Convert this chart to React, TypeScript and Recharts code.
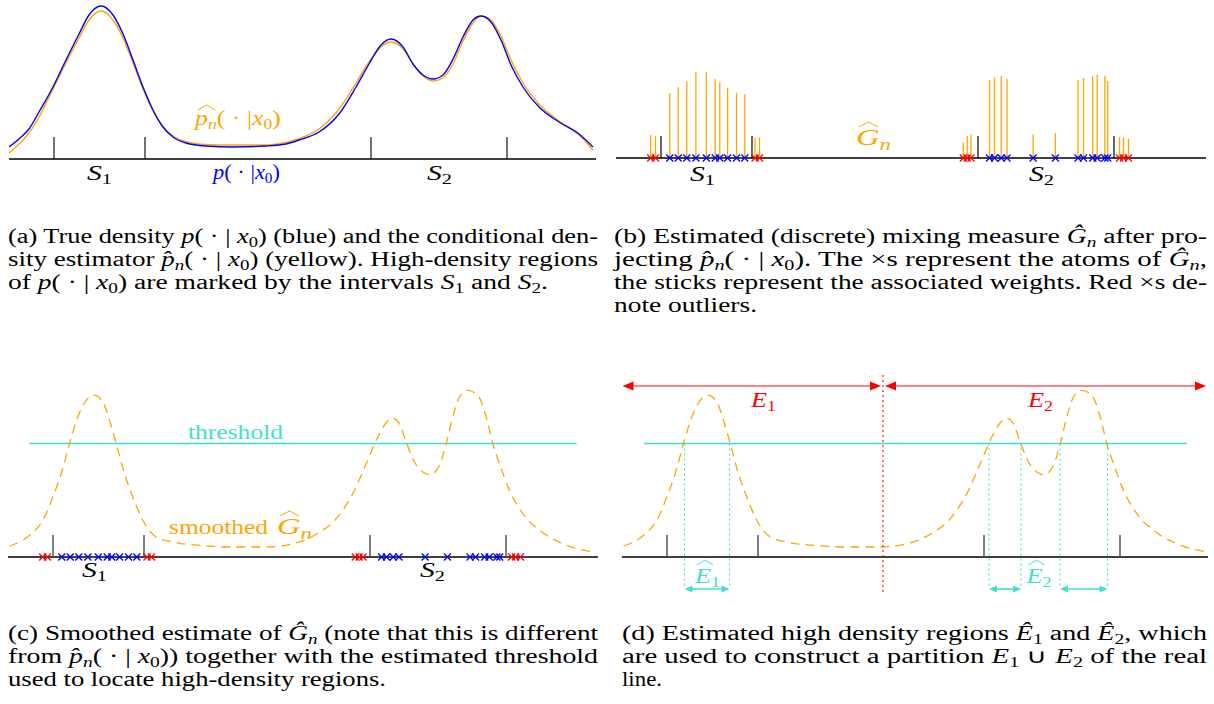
import React from "react";
import {
  ComposedChart,
  Line,
  Scatter,
  XAxis,
  YAxis,
  ReferenceLine,
  ReferenceDot,
} from "recharts";

const C_BLUE = "#0000ff";
const C_ORANGE = "#ffa500";
const C_RED = "#ff0000";
const C_RED_SOFT = "#ff5a5a";
const C_TURQ = "#40e0d0";
const C_TICK = "#555555";
const SERIF = "Liberation Serif";

// x positions are on a shared 0..590 scale for all four panels
const densityGrid = [
  0, 10, 20, 30, 44, 57, 70, 80, 92, 104, 114, 124, 134, 144, 154, 164, 177,
  197, 224, 257, 277, 290, 310, 330, 347, 360, 372, 382, 394, 404, 414, 424,
  434, 444, 454, 464, 472, 482, 492, 502, 514, 530, 550, 570, 584,
];
const trueDensity = [
  12, 20, 30, 47, 72, 99, 125, 144, 153, 144, 125, 99, 72, 49, 32, 22, 16, 13,
  12, 13, 15, 19, 27, 45, 72, 95, 114, 120, 112, 95, 84, 80, 84, 100, 122, 139,
  143, 137, 119, 94, 72, 52, 37, 25, 12,
];
const estDensity = [
  6, 15, 26, 42, 70, 96, 121, 139, 148, 139, 121, 96, 70, 48, 32, 23, 17.5,
  14.5, 14, 14, 16.5, 20.5, 30, 50, 76, 97, 112, 117, 110, 95, 83, 78, 81, 95,
  118, 136, 143, 139, 123, 99, 76, 55, 38, 24, 9,
];

const smoothGrid = [
  1.5, 21.5, 34.8, 44.8, 53.2, 61.5, 69.8, 78.2, 86.5, 94.8, 101.5, 108.2,
  116.5, 124.8, 134.8, 148.2, 164.8, 191.5, 224.8, 258.2, 284.8, 308.2, 328.2,
  344.8, 358.2, 369.8, 376.5, 384.8, 391.5, 398.2, 406.5, 416.5, 422.2, 431.5,
  438.2, 444.8, 451.5, 459.8, 469.8, 478.2, 484.8, 491.5, 501.5, 514.8, 531.5,
  554.8, 584.8,
];
const smoothDensity = [
  11, 21.7, 36.7, 60, 83.3, 113.3, 140, 156.7, 161.7, 155, 136.7, 113.3, 83.3,
  60, 36.7, 20, 15, 11.7, 10, 10, 13.3, 22.7, 38.3, 63.3, 93.3, 120, 132,
  138.7, 133, 115, 95, 84, 82.3, 91.7, 113.3, 140, 160, 166.7, 161.7, 140,
  113.3, 93.3, 66.7, 43.3, 26.7, 13.3, 5,
];

const intervalEnds = [45, 136, 362, 498];

const inlierAtoms = [
  53.8, 62.2, 70.8, 79.9, 90.3, 99.2, 103.8, 111.6, 120.5, 128.8, 373.5,
  378.5, 385.2, 391, 417.1, 439.4, 462, 467.5, 476.7, 481.2, 488.9, 491.7,
];
const inlierWeights = [
  65, 71, 76.7, 86.3, 86.3, 79, 75.7, 70.3, 65.3, 63.7, 78, 80.7, 82.3, 79,
  23.5, 24.8, 78.3, 80, 81.7, 83, 82.3, 77,
];
const outlierAtoms = [
  34.7, 39.5, 139, 143.5, 347.3, 351.2, 355, 503.5, 507.5, 512.5,
];
const outlierWeights = [23, 21.7, 20.3, 20.7, 15.5, 22.2, 23.5, 21, 20.2, 19.2];

const thresholdLevel = 113.5;
const thresholdCrossings = [62.5, 107.5, 367, 399, 438, 485.5];
const partitionCut = 261;

const toPoints = (xs: number[], ys: number[]) =>
  xs.map((x, i) => ({ x, y: ys[i] }));
const onAxis = (xs: number[]) => xs.map((x) => ({ x, y: 0 }));

const crossShape = (color: string) => (p: any) => {
  const s = 3.5;
  return (
    <g stroke={color} strokeWidth={1.3}>
      <line x1={p.cx - s} y1={p.cy - s} x2={p.cx + s} y2={p.cy + s} />
      <line x1={p.cx - s} y1={p.cy + s} x2={p.cx + s} y2={p.cy - s} />
    </g>
  );
};

const arrowHead =
  (dir: 1 | -1, color: string, len: number, hw: number) => (p: any) =>
    (
      <path
        d={`M${p.cx},${p.cy} L${p.cx - dir * len},${p.cy - hw} L${
          p.cx - dir * len
        },${p.cy + hw} Z`}
        fill={color}
      />
    );

const hat = (x: number, y: number, w: number, color: string) => (
  <path
    d={`M${x},${y + 5} L${x + w / 2},${y} L${x + w},${y + 5}`}
    fill="none"
    stroke={color}
    strokeWidth={1}
  />
);

// svg text helpers
const I = (t: string) => <tspan fontStyle="italic">{t}</tspan>;
const sb = (t: string, after: string, italic = false, fs = 14) => (
  <>
    <tspan fontSize={fs} dy={4} fontStyle={italic ? "italic" : "normal"}>
      {t}
    </tspan>
    <tspan dy={-4}>{after}</tspan>
  </>
);

const subLabel =
  (base: string, sub: string, color: string, withHat = false) =>
  (p: any) =>
    (
      <g>
        <text
          x={p.cx - 12}
          y={p.cy}
          fontFamily={SERIF}
          fontSize={22}
          fill={color}
          textLength={25}
          lengthAdjust="spacingAndGlyphs"
        >
          <tspan fontStyle="italic">{base}</tspan>
          <tspan fontSize={15} dy={4}>
            {sub}
          </tspan>
        </text>
        {withHat && hat(p.cx - 10, p.cy - 23, 16, color)}
      </g>
    );

const wordLabel = (word: string, color: string, width: number) => (p: any) =>
  (
    <text
      x={p.cx}
      y={p.cy}
      fontFamily={SERIF}
      fontSize={21}
      fill={color}
      textLength={width}
      lengthAdjust="spacingAndGlyphs"
    >
      {word}
    </text>
  );

const condLabel =
  (color: string, withHat: boolean, width: number) => (p: any) =>
    (
      <g>
        <text
          x={p.cx}
          y={p.cy}
          fontFamily={SERIF}
          fontSize={22}
          fill={color}
          textLength={width}
          lengthAdjust="spacingAndGlyphs"
        >
          <tspan fontStyle="italic">p</tspan>
          {withHat && (
            <tspan fontSize={15} fontStyle="italic" dy={4}>
              n
            </tspan>
          )}
          <tspan dy={withHat ? -4 : 0}>( · |</tspan>
          <tspan fontStyle="italic">x</tspan>
          <tspan fontSize={15} dy={4}>
            0
          </tspan>
          <tspan dy={-4}>)</tspan>
        </text>
        {withHat && hat(p.cx + 3, p.cy - 20, 17, color)}
      </g>
    );

const gLabel = (color: string) => (p: any) =>
  (
    <g>
      <text
        x={p.cx}
        y={p.cy}
        fontFamily={SERIF}
        fontSize={23}
        fill={color}
        textLength={35}
        lengthAdjust="spacingAndGlyphs"
      >
        <tspan fontStyle="italic">G</tspan>
        <tspan fontSize={16} fontStyle="italic" dy={5}>
          n
        </tspan>
      </text>
      {hat(p.cx + 3, p.cy - 23, 19, color)}
    </g>
  );

function Panel({
  left,
  top,
  plotH,
  bottom,
  children,
}: {
  left: number;
  top: number;
  plotH: number;
  bottom: number;
  children: React.ReactNode;
}) {
  // y domain extends below zero so markers and labels under the axis stay in the plot area
  return (
    <div style={{ position: "absolute", left, top }}>
      <ComposedChart
        width={590}
        height={plotH + bottom}
        margin={{ top: 0, right: 0, bottom: 0, left: 0 }}
      >
        <XAxis
          type="number"
          dataKey="x"
          domain={[0, 590]}
          hide
          allowDataOverflow
        />
        <YAxis
          type="number"
          dataKey="y"
          domain={[-bottom, plotH]}
          hide
          allowDataOverflow
        />
        {children}
      </ComposedChart>
    </div>
  );
}

function AxisWithTicks({ end, color, width }: any) {
  return (
    <>
      <ReferenceLine
        segment={[
          { x: 0, y: 0 },
          { x: end, y: 0 },
        ]}
        stroke="#000"
        strokeWidth={1.3}
      />
      {intervalEnds.map((e) => (
        <ReferenceLine
          key={e}
          segment={[
            { x: e, y: 0 },
            { x: e, y: 22 },
          ]}
          stroke={color}
          strokeWidth={width}
        />
      ))}
    </>
  );
}

function Atoms() {
  return (
    <>
      <Scatter
        data={onAxis(inlierAtoms)}
        shape={crossShape(C_BLUE)}
        isAnimationActive={false}
      />
      <Scatter
        data={onAxis(outlierAtoms)}
        shape={crossShape(C_RED)}
        isAnimationActive={false}
      />
    </>
  );
}

function CaptionLine({
  x,
  y,
  width,
  children,
}: {
  x: number;
  y: number;
  width: number;
  children: React.ReactNode;
}) {
  return (
    <text
      x={x}
      y={y}
      fontFamily={SERIF}
      fontSize={20}
      fill="#000"
      textLength={width}
      lengthAdjust="spacingAndGlyphs"
    >
      {children}
    </text>
  );
}

export default function App() {
  const smooth = toPoints(smoothGrid, smoothDensity);
  return (
    <div
      style={{
        position: "absolute",
        left: 0,
        top: 0,
        width: 1214,
        height: 704,
        background: "#fff",
        overflow: "hidden",
      }}
    >
      {/* (a) */}
      <Panel left={9} top={0} plotH={159} bottom={45}>
        <AxisWithTicks end={587} color="#000" width={1.1} />
        <Line
          data={toPoints(densityGrid, estDensity)}
          dataKey="y"
          type="monotone"
          stroke={C_ORANGE}
          strokeWidth={1.4}
          dot={false}
          isAnimationActive={false}
        />
        <Line
          data={toPoints(densityGrid, trueDensity)}
          dataKey="y"
          type="monotone"
          stroke={C_BLUE}
          strokeWidth={1.4}
          dot={false}
          isAnimationActive={false}
        />
        <ReferenceDot x={186} y={34} r={0} shape={condLabel(C_ORANGE, true, 86)} />
        <ReferenceDot x={204} y={-20} r={0} shape={condLabel(C_BLUE, false, 67)} />
        <ReferenceDot x={90} y={-21} r={0} shape={subLabel("S", "1", "#000")} />
        <ReferenceDot x={430} y={-21} r={0} shape={subLabel("S", "2", "#000")} />
      </Panel>

      {/* (b) */}
      <Panel left={616} top={58} plotH={100} bottom={45}>
        <AxisWithTicks end={590} color="#000" width={1.2} />
        {inlierAtoms.map((a, i) => (
          <ReferenceLine
            key={"i" + i}
            segment={[
              { x: a, y: 0 },
              { x: a, y: inlierWeights[i] },
            ]}
            stroke={C_ORANGE}
            strokeWidth={1.3}
          />
        ))}
        {outlierAtoms.map((a, i) => (
          <ReferenceLine
            key={"o" + i}
            segment={[
              { x: a, y: 0 },
              { x: a, y: outlierWeights[i] },
            ]}
            stroke={C_ORANGE}
            strokeWidth={1.3}
          />
        ))}
        <Atoms />
        <ReferenceDot x={240} y={13} r={0} shape={gLabel(C_ORANGE)} />
        <ReferenceDot x={86} y={-23} r={0} shape={subLabel("S", "1", "#000")} />
        <ReferenceDot x={425} y={-23} r={0} shape={subLabel("S", "2", "#000")} />
      </Panel>

      {/* (c) */}
      <Panel left={8} top={370} plotH={187} bottom={40}>
        <AxisWithTicks end={590} color={C_TICK} width={1.5} />
        <ReferenceLine
          segment={[
            { x: 21.5, y: thresholdLevel },
            { x: 568.5, y: thresholdLevel },
          ]}
          stroke={C_TURQ}
          strokeWidth={1.5}
        />
        <Line
          data={smooth}
          dataKey="y"
          type="monotone"
          stroke={C_ORANGE}
          strokeWidth={1.3}
          strokeDasharray="9 6"
          dot={false}
          isAnimationActive={false}
        />
        <Atoms />
        <ReferenceDot x={180} y={117.7} r={0} shape={wordLabel("threshold", C_TURQ, 95)} />
        <ReferenceDot x={161} y={23} r={0} shape={wordLabel("smoothed", C_ORANGE, 99)} />
        <ReferenceDot x={269} y={23} r={0} shape={gLabel(C_ORANGE)} />
        <ReferenceDot x={86} y={-20} r={0} shape={subLabel("S", "1", "#000")} />
        <ReferenceDot x={424} y={-20} r={0} shape={subLabel("S", "2", "#000")} />
      </Panel>

      {/* (d) */}
      <Panel left={622} top={370} plotH={187} bottom={45}>
        <AxisWithTicks end={586} color={C_TICK} width={1.5} />
        <ReferenceLine
          segment={[
            { x: 22, y: thresholdLevel },
            { x: 565, y: thresholdLevel },
          ]}
          stroke={C_TURQ}
          strokeWidth={1.5}
        />
        <Line
          data={smooth}
          dataKey="y"
          type="monotone"
          stroke={C_ORANGE}
          strokeWidth={1.3}
          strokeDasharray="9 6"
          dot={false}
          isAnimationActive={false}
        />
        {thresholdCrossings.map((c) => (
          <ReferenceLine
            key={c}
            segment={[
              { x: c, y: thresholdLevel },
              { x: c, y: -30 },
            ]}
            stroke={C_TURQ}
            strokeWidth={1.1}
            strokeDasharray="2 3"
          />
        ))}
        <ReferenceLine
          segment={[
            { x: partitionCut, y: 182 },
            { x: partitionCut, y: -38 },
          ]}
          stroke={C_RED}
          strokeWidth={1.1}
          strokeDasharray="2 3"
        />
        {/* partition arrows */}
        <ReferenceLine
          segment={[
            { x: 4, y: 171 },
            { x: partitionCut - 6, y: 171 },
          ]}
          stroke={C_RED_SOFT}
          strokeWidth={1.6}
        />
        <ReferenceLine
          segment={[
            { x: partitionCut + 6, y: 171 },
            { x: 580, y: 171 },
          ]}
          stroke={C_RED_SOFT}
          strokeWidth={1.6}
        />
        <ReferenceDot x={0.5} y={171} r={0} shape={arrowHead(-1, C_RED, 11, 4.5)} />
        <ReferenceDot x={partitionCut - 2} y={171} r={0} shape={arrowHead(1, C_RED, 11, 4.5)} />
        <ReferenceDot x={partitionCut + 2} y={171} r={0} shape={arrowHead(-1, C_RED, 11, 4.5)} />
        <ReferenceDot x={584} y={171} r={0} shape={arrowHead(1, C_RED, 11, 4.5)} />
        {[0, 2, 4].map((k) => (
          <React.Fragment key={k}>
            <ReferenceLine
              segment={[
                { x: thresholdCrossings[k] + 3, y: -32 },
                { x: thresholdCrossings[k + 1] - 3, y: -32 },
              ]}
              stroke={C_TURQ}
              strokeWidth={1.6}
            />
            <ReferenceDot x={thresholdCrossings[k]} y={-32} r={0} shape={arrowHead(-1, C_TURQ, 8, 3.5)} />
            <ReferenceDot x={thresholdCrossings[k + 1]} y={-32} r={0} shape={arrowHead(1, C_TURQ, 8, 3.5)} />
          </React.Fragment>
        ))}
        <ReferenceDot x={141} y={150} r={0} shape={subLabel("E", "1", C_RED)} />
        <ReferenceDot x={418} y={150} r={0} shape={subLabel("E", "2", C_RED)} />
        <ReferenceDot x={85} y={-26} r={0} shape={subLabel("E", "1", C_TURQ, true)} />
        <ReferenceDot x={416.5} y={-26} r={0} shape={subLabel("E", "2", C_TURQ, true)} />
      </Panel>

      <svg
        width={1214}
        height={704}
        style={{ position: "absolute", left: 0, top: 0, pointerEvents: "none" }}
      >
        {/* (a) caption */}
        <CaptionLine x={8} y={243} width={590}>
          (a) True density {I("p")}( · | {I("x")}
          {sb("0", ") (blue) and the conditional den-")}
        </CaptionLine>
        <CaptionLine x={8} y={266} width={590}>
          sity estimator {I("p̂")}
          {sb("n", "( · | ", true)}
          {I("x")}
          {sb("0", ") (yellow).  High-density regions")}
        </CaptionLine>
        <CaptionLine x={8} y={289} width={540}>
          of {I("p")}( · | {I("x")}
          {sb("0", ") are marked by the intervals ")}
          {I("S")}
          {sb("1", " and ")}
          {I("S")}
          {sb("2", ".")}
        </CaptionLine>

        {/* (b) caption */}
        <CaptionLine x={614} y={243} width={593}>
          (b) Estimated (discrete) mixing measure {I("Ĝ")}
          {sb("n", " after pro-", true)}
        </CaptionLine>
        <CaptionLine x={614} y={266} width={593}>
          jecting {I("p̂")}
          {sb("n", "( · | ", true)}
          {I("x")}
          {sb("0", ").  The ×s represent the atoms of ")}
          {I("Ĝ")}
          {sb("n", ",", true)}
        </CaptionLine>
        <CaptionLine x={614} y={289} width={593}>
          the sticks represent the associated weights. Red ×s de-
        </CaptionLine>
        <CaptionLine x={614} y={312} width={143}>
          note outliers.
        </CaptionLine>

        {/* (c) caption */}
        <CaptionLine x={8} y={640} width={590}>
          (c) Smoothed estimate of {I("Ĝ")}
          {sb("n", " (note that this is different", true)}
        </CaptionLine>
        <CaptionLine x={8} y={663} width={590}>
          from {I("p̂")}
          {sb("n", "( · | ", true)}
          {I("x")}
          {sb("0", ")) together with the estimated threshold")}
        </CaptionLine>
        <CaptionLine x={8} y={686} width={378}>
          used to locate high-density regions.
        </CaptionLine>

        {/* (d) caption */}
        <CaptionLine x={622} y={640} width={585}>
          (d) Estimated high density regions {I("Ê")}
          {sb("1", " and ")}
          {I("Ê")}
          {sb("2", ", which")}
        </CaptionLine>
        <CaptionLine x={622} y={663} width={585}>
          are used to construct a partition {I("E")}
          {sb("1", " ∪ ")}
          {I("E")}
          {sb("2", " of the real")}
        </CaptionLine>
        <CaptionLine x={622} y={686} width={40}>
          line.
        </CaptionLine>
      </svg>
    </div>
  );
}
